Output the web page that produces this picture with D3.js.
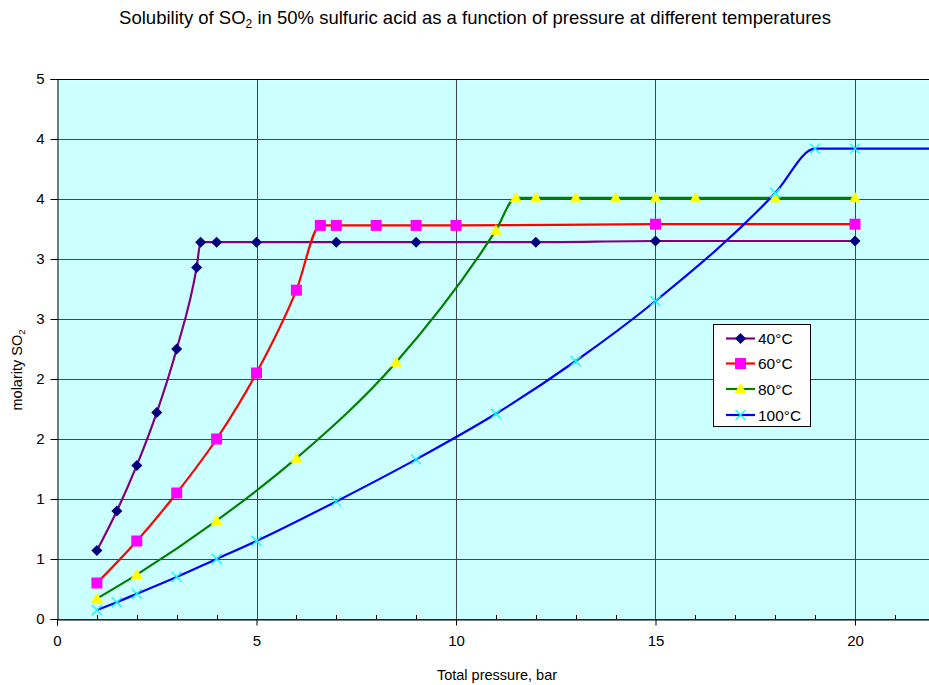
<!DOCTYPE html>
<html>
<head>
<meta charset="utf-8">
<script src="https://cdn.jsdelivr.net/npm/d3@7/dist/d3.min.js"></script>
<style>
  html, body { margin: 0; padding: 0; background: #fff; }
  svg { display: block; font-family: "Liberation Sans", Arial, sans-serif; }
</style>
</head>
<body>
<svg id="chart" width="929" height="685"></svg>
<script>
// Measured solubility data: pressure (bar) vs. SO2 molarity
const p40 = [1, 1.5, 2, 2.5, 3, 3.5, 3.6, 4, 5, 7, 9, 12, 15, 20];
const m40 = [0.57, 0.9, 1.28, 1.72, 2.25, 2.93, 3.14, 3.14, 3.14, 3.14, 3.14, 3.14, 3.15, 3.15];

const p60 = [1, 2, 3, 4, 5, 6, 6.6, 7, 8, 9, 10, 15, 20];
const m60 = [0.3, 0.65, 1.05, 1.5, 2.05, 2.74, 3.28, 3.28, 3.28, 3.28, 3.28, 3.29, 3.29];

const p80 = [1, 2, 4, 6, 8.5, 11, 11.5, 12, 13, 14, 15, 16, 18, 20];
const m80 = [0.17, 0.37, 0.82, 1.34, 2.14, 3.24, 3.51, 3.51, 3.51, 3.51, 3.51, 3.51, 3.51, 3.51];

const p100 = [1, 1.5, 2, 3, 4, 5, 7, 9, 11, 13, 15, 18, 19, 20, 22];
const m100 = [0.075, 0.14, 0.21, 0.35, 0.5, 0.65, 0.98, 1.33, 1.71, 2.15, 2.65, 3.55, 3.92, 3.92, 3.92];

const seriesNames = ["40°C", "60°C", "80°C", "100°C"];
const xTicks = [0, 5, 10, 15, 20];
const yTicks = [0, 0.5, 1, 1.5, 2, 2.5, 3, 3.5, 4, 4.5];
const yTickLabels = ["0", "1", "1", "2", "2", "3", "3", "4", "4", "5"];

const series = [
  { name: seriesNames[0], xs: p40, ys: m40, line: "#800080", fill: "#000080", stroke: "#000080", symbol: "diamond" },
  { name: seriesNames[1], xs: p60, ys: m60, line: "#ff0000", fill: "#ff00ff", stroke: "#ff00ff", symbol: "square" },
  { name: seriesNames[2], xs: p80, ys: m80, line: "#008000", fill: "#ffff00", stroke: "#ffff00", symbol: "triangle" },
  { name: seriesNames[3], xs: p100, ys: m100, line: "#0000ff", fill: "none", stroke: "#00ffff", symbol: "cross" }
];

const svg = d3.select("#chart");
const plotLeft = 57, plotTop = 79, plotBottom = 619;
const unit = (855 - 57) / 20;

const x = d3.scaleLinear().domain([0, 25]).range([plotLeft, plotLeft + 25 * unit]);
const y = d3.scaleLinear().domain([0, 4.5]).range([plotBottom, plotTop]);

// Plot area background
svg.append("rect")
  .attr("x", plotLeft).attr("y", plotTop)
  .attr("width", x(25) - plotLeft).attr("height", plotBottom - plotTop)
  .attr("fill", "#ccffff");

// Grid lines
const grid = svg.append("g");
grid.selectAll("line.h").data(yTicks).join("line")
  .attr("x1", plotLeft).attr("x2", x(25))
  .attr("y1", d => Math.round(y(d)) + 0.5).attr("y2", d => Math.round(y(d)) + 0.5)
  .attr("stroke", "#3a4a4a").attr("stroke-width", 1);
grid.selectAll("line.v").data([5, 10, 15, 20]).join("line")
  .attr("y1", plotTop).attr("y2", plotBottom)
  .attr("x1", d => Math.round(x(d)) + 0.5).attr("x2", d => Math.round(x(d)) + 0.5)
  .attr("stroke", "#3a4a4a").attr("stroke-width", 1);
svg.append("line")
  .attr("x1", plotLeft).attr("x2", x(25)).attr("y1", plotTop + 0.5).attr("y2", plotTop + 0.5)
  .attr("stroke", "#000");

// Axes
const xAxis = svg.append("g")
  .attr("transform", `translate(0,${plotBottom + 0.5})`)
  .call(d3.axisBottom(x).tickValues(xTicks).tickSize(6).tickPadding(10).tickFormat(d3.format("d")));
// minor ticks pointing into the plot
svg.append("g").selectAll("line").data(d3.range(0, 26).filter(d => d % 5 !== 0)).join("line")
  .attr("x1", d => Math.round(x(d)) + 0.5).attr("x2", d => Math.round(x(d)) + 0.5)
  .attr("y1", plotBottom).attr("y2", plotBottom - 4)
  .attr("stroke", "#000");

const yAxis = svg.append("g")
  .attr("transform", `translate(${plotLeft + 0.5},0)`)
  .call(d3.axisLeft(y).tickValues(yTicks).tickSize(7).tickPadding(6)
    .tickFormat((d, i) => yTickLabels[i]));

[xAxis, yAxis].forEach(g => {
  g.select(".domain").attr("stroke", "#000");
  g.selectAll(".tick line").attr("stroke", "#000");
  g.selectAll(".tick text").attr("font-size", 15).attr("fill", "#000")
    .attr("font-family", "'Liberation Sans', Arial, sans-serif");
});

// Series lines
const line = d3.line().curve(d3.curveMonotoneX);
series.forEach(s => {
  const pts = s.xs.map((v, i) => [x(v), y(s.ys[i])]);
  svg.append("path")
    .attr("d", line(pts))
    .attr("fill", "none")
    .attr("stroke", s.line)
    .attr("stroke-width", 2.2);
});

// Markers
function marker(g, symbol, cx, cy, s) {
  if (symbol === "diamond") {
    g.append("path").attr("d", `M${cx},${cy - 5.5}L${cx + 5.5},${cy}L${cx},${cy + 5.5}L${cx - 5.5},${cy}Z`)
      .attr("fill", s.fill);
  } else if (symbol === "square") {
    g.append("rect").attr("x", cx - 5.5).attr("y", cy - 5.5).attr("width", 11).attr("height", 11)
      .attr("fill", s.fill);
  } else if (symbol === "triangle") {
    g.append("path").attr("d", `M${cx},${cy - 6}L${cx + 6},${cy + 4.5}L${cx - 6},${cy + 4.5}Z`)
      .attr("fill", s.fill);
  } else {
    g.append("path").attr("d", `M${cx - 5},${cy - 5}L${cx + 5},${cy + 5}M${cx - 5},${cy + 5}L${cx + 5},${cy - 5}`)
      .attr("stroke", s.stroke).attr("stroke-width", 1.3).attr("fill", "none");
  }
}
series.forEach(s => {
  const g = svg.append("g");
  s.xs.forEach((v, i) => marker(g, s.symbol, x(v), y(s.ys[i]), s));
});

// Title
const title = svg.append("text")
  .attr("x", 475).attr("y", 24)
  .attr("text-anchor", "middle")
  .attr("font-size", 18.5)
  .attr("fill", "#000");
title.append("tspan").text("Solubility of SO");
title.append("tspan").attr("font-size", 12).attr("dy", 4).text("2");
title.append("tspan").attr("dy", -4).text(" in 50% sulfuric acid as a function of pressure at different temperatures");

// Axis titles
svg.append("text")
  .attr("x", 497).attr("y", 680)
  .attr("text-anchor", "middle")
  .attr("font-size", 14.5)
  .text("Total pressure, bar");

const yt = svg.append("text")
  .attr("transform", "translate(22,370) rotate(-90)")
  .attr("text-anchor", "middle")
  .attr("font-size", 14.5);
yt.append("tspan").text("molarity SO");
yt.append("tspan").attr("font-size", 9.5).attr("dy", 3).text("2");

// Legend
const lg = svg.append("g");
lg.append("rect")
  .attr("x", 713.5).attr("y", 324.5).attr("width", 97).attr("height", 102)
  .attr("fill", "#fff").attr("stroke", "#000");
const rowY = [338.5, 363.5, 389, 415];
series.forEach((s, i) => {
  lg.append("line")
    .attr("x1", 726).attr("x2", 755).attr("y1", rowY[i]).attr("y2", rowY[i])
    .attr("stroke", s.line).attr("stroke-width", 2.2);
  marker(lg, s.symbol, 740.5, rowY[i], s);
  lg.append("text")
    .attr("x", 758).attr("y", rowY[i] + 5.5)
    .attr("font-size", 15.5)
    .text(s.name);
});
</script>
</body>
</html>
